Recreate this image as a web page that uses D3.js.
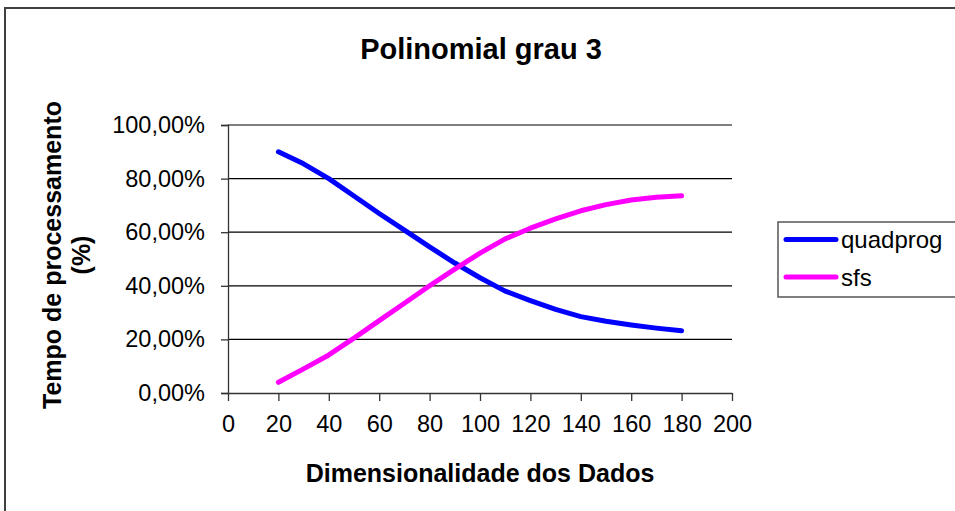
<!DOCTYPE html>
<html>
<head>
<meta charset="utf-8">
<script src="https://cdn.jsdelivr.net/npm/d3@7"></script>
<style>
  html, body { margin: 0; padding: 0; background: #fff; }
  svg { display: block; }
  text { font-family: "Liberation Sans", Arial, sans-serif; fill: #000; }
</style>
</head>
<body>
<svg id="chart" width="955" height="511"></svg>
<script>
// Dimensionality of the data (x) and share of processing time per method
const dimensions = [20, 30, 40, 50, 60, 70, 80, 90, 100, 110, 120, 130, 140, 150, 160, 170, 180];
const quadprog   = [0.900, 0.855, 0.800, 0.735, 0.670, 0.608, 0.545, 0.485, 0.430, 0.380, 0.345, 0.312, 0.285, 0.268, 0.254, 0.242, 0.232];
const sfs        = [0.040, 0.090, 0.142, 0.205, 0.270, 0.335, 0.400, 0.462, 0.522, 0.575, 0.615, 0.650, 0.680, 0.703, 0.720, 0.730, 0.736];
const seriesNames  = ["quadprog", "sfs"];
const seriesColors = ["#0000ff", "#ff00ff"];
const xTicks = [0, 20, 40, 60, 80, 100, 120, 140, 160, 180, 200];
const yTicks = [0, 0.2, 0.4, 0.6, 0.8, 1.0];

const chartTitle = "Polinomial grau 3";
const xTitle = "Dimensionalidade dos Dados";
const yTitleLines = ["Tempo de processamento", "(%)"];

const svg = d3.select("#chart");

// Outer chart frame
svg.append("rect")
  .attr("x", 5).attr("y", 8)
  .attr("width", 1000).attr("height", 600)
  .attr("fill", "#fff")
  .attr("stroke", "#404040").attr("stroke-width", 2);

const plot = { left: 228, right: 732, top: 125, bottom: 393 };

const x = d3.scaleLinear().domain([0, 200]).range([plot.left, plot.right]);
const y = d3.scaleLinear().domain([0, 1]).range([plot.bottom, plot.top]);

const ptBR = d3.formatLocale({ decimal: ",", thousands: ".", grouping: [3], currency: ["R$", ""] });
const pct = ptBR.format(".2%");

// Horizontal gridlines
svg.append("g")
  .selectAll("line")
  .data(yTicks.filter(d => d > 0))
  .join("line")
  .attr("x1", plot.left).attr("x2", plot.right)
  .attr("y1", d => y(d)).attr("y2", d => y(d))
  .attr("stroke", "#000").attr("stroke-width", 1.2);

// Y axis
const yAxis = svg.append("g")
  .attr("transform", `translate(${plot.left},0)`)
  .call(d3.axisLeft(y).tickValues(yTicks).tickFormat(pct).tickSize(7).tickPadding(16));
yAxis.select(".domain").attr("stroke", "#333").attr("stroke-width", 1.3);
yAxis.selectAll(".tick line").attr("stroke", "#333").attr("stroke-width", 1.3);
yAxis.selectAll(".tick text")
  .attr("font-size", 23.5)
  .attr("font-family", "Liberation Sans, Arial, sans-serif")
  .attr("fill", "#000");

// X axis
const xAxis = svg.append("g")
  .attr("transform", `translate(0,${plot.bottom})`)
  .call(d3.axisBottom(x).tickValues(xTicks).tickFormat(d3.format("d")).tickSize(8).tickSizeOuter(0).tickPadding(14));
xAxis.select(".domain").attr("stroke", "#333").attr("stroke-width", 1.3);
xAxis.selectAll(".tick line").attr("stroke", "#333").attr("stroke-width", 1.3);
xAxis.selectAll(".tick text")
  .attr("font-size", 23.5)
  .attr("font-family", "Liberation Sans, Arial, sans-serif")
  .attr("fill", "#000");

// Series lines
const line = d3.line()
  .x((d, i) => x(dimensions[i]))
  .y(d => y(d));

[quadprog, sfs].forEach((values, k) => {
  svg.append("path")
    .datum(values)
    .attr("d", line)
    .attr("fill", "none")
    .attr("stroke", seriesColors[k])
    .attr("stroke-width", 5)
    .attr("stroke-linecap", "round")
    .attr("stroke-linejoin", "round");
});

// Title
svg.append("text")
  .attr("x", 481).attr("y", 59)
  .attr("text-anchor", "middle")
  .attr("font-size", 29)
  .attr("font-weight", "bold")
  .text(chartTitle);

// X axis title
svg.append("text")
  .attr("x", (plot.left + plot.right) / 2).attr("y", 482)
  .attr("text-anchor", "middle")
  .attr("font-size", 25)
  .attr("font-weight", "bold")
  .text(xTitle);

// Y axis title (two lines, rotated)
const yt = svg.append("text")
  .attr("transform", `translate(61,${(plot.top + plot.bottom) / 2 - 4}) rotate(-90)`)
  .attr("text-anchor", "middle")
  .attr("font-size", 25)
  .attr("font-weight", "bold");
yTitleLines.forEach((s, i) => {
  yt.append("tspan").attr("x", 0).attr("dy", i === 0 ? 0 : 29).text(s);
});

// Legend
const legend = svg.append("g");
legend.append("rect")
  .attr("x", 778).attr("y", 222)
  .attr("width", 200).attr("height", 75)
  .attr("fill", "#fff")
  .attr("stroke", "#555").attr("stroke-width", 1.5);
seriesNames.forEach((name, k) => {
  const ly = 239.5 + k * 37.5;
  legend.append("line")
    .attr("x1", 786).attr("x2", 836)
    .attr("y1", ly).attr("y2", ly)
    .attr("stroke", seriesColors[k])
    .attr("stroke-width", 5)
    .attr("stroke-linecap", "round");
  legend.append("text")
    .attr("x", 841).attr("y", ly + 8.5)
    .attr("font-size", 24)
    .text(name);
});
</script>
</body>
</html>
